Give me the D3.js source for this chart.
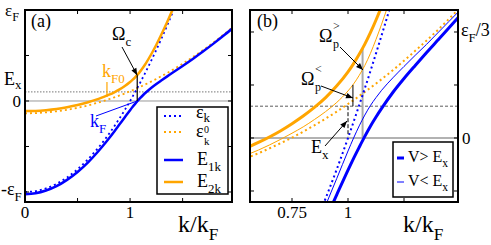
<!DOCTYPE html>
<html><head><meta charset="utf-8">
<script src="https://cdn.jsdelivr.net/npm/d3@7"></script>
<style>
html,body{margin:0;padding:0;background:#fff;}
svg{display:block;}
</style></head>
<body><svg id="chart" width="491" height="245"></svg>
<script>
// k / kF grid shared by the bare and strong-coupling curves
var kGrid = [0, 0.1, 0.2, 0.3, 0.4, 0.5, 0.6, 0.7, 0.75, 0.8, 0.85, 0.9, 0.95, 1.0, 1.025, 1.05,
  1.075, 1.1, 1.125, 1.15, 1.2, 1.25, 1.3, 1.35, 1.4, 1.45, 1.5, 1.6, 1.7, 1.8, 1.9, 2.0];
// bare bands (units of eps_F)
var epsK = [-1, -0.99, -0.96, -0.91, -0.84, -0.75, -0.64, -0.51, -0.438, -0.36, -0.278, -0.19, -0.098, 0, 0.051, 0.103,
  0.156, 0.21, 0.266, 0.323, 0.44, 0.563, 0.69, 0.823, 0.96, 1.103, 1.25, 1.56, 1.89, 2.24, 2.61, 3.0];
var eps0K = [-0.135, -0.133, -0.125, -0.113, -0.096, -0.075, -0.048, -0.016, 0.001, 0.020, 0.040, 0.061, 0.083, 0.107, 0.119, 0.132,
  0.145, 0.158, 0.171, 0.185, 0.213, 0.243, 0.274, 0.306, 0.339, 0.374, 0.410, 0.485, 0.564, 0.649, 0.739, 0.833];
// dressed branches, V > Ex
var E1k = [-1.024, -1.014, -0.984, -0.936, -0.867, -0.780, -0.674, -0.549, -0.481, -0.409, -0.334, -0.256, -0.178, -0.101, -0.064, -0.029,
  0.005, 0.037, 0.066, 0.093, 0.143, 0.187, 0.228, 0.268, 0.307, 0.346, 0.385, 0.465, 0.549, 0.636, 0.727, 0.823];
var E2k = [-0.111, -0.109, -0.101, -0.088, -0.069, -0.045, -0.014, 0.023, 0.045, 0.069, 0.096, 0.127, 0.164, 0.208, 0.234, 0.263,
  0.295, 0.331, 0.371, 0.414, 0.511, 0.618, 0.736, 0.860, 0.992, 1.130, 1.274, 1.579, 1.906, 2.253, 2.621, 3.010];
// dressed branches, V < Ex (panel b only)
var kWeak = [0.5, 0.6, 0.7, 0.75, 0.8, 0.85, 0.9, 0.95, 1.0, 1.025, 1.05, 1.075, 1.1, 1.125, 1.15, 1.2, 1.25, 1.3, 1.35, 1.4, 1.45, 1.5, 1.6];
var E1weak = [-0.759, -0.650, -0.522, -0.451, -0.375, -0.296, -0.212, -0.127, -0.041, 0.000, 0.038, 0.072, 0.102, 0.127, 0.150,
  0.189, 0.225, 0.260, 0.294, 0.330, 0.366, 0.402, 0.479];
var E2weak = [-0.066, -0.038, -0.004, 0.015, 0.035, 0.058, 0.083, 0.112, 0.148, 0.170, 0.197, 0.228, 0.266, 0.310, 0.358,
  0.464, 0.581, 0.704, 0.834, 0.970, 1.111, 1.257, 1.566];

var Ex = 0.1;
var kCross = 1.068;   // where eps_k meets eps0_k
var kF0 = 0.78;

var BLUE = '#0000ff', ORANGE = '#ffa500';
var SERIF = '"Liberation Serif", "Times New Roman", "DejaVu Serif", serif';
var svg = d3.select('#chart');

svg.append('defs').append('marker')
  .attr('id', 'arrowHead')
  .attr('viewBox', '0 -5 10 10')
  .attr('refX', 10).attr('refY', 0)
  .attr('markerUnits', 'userSpaceOnUse')
  .attr('markerWidth', 8).attr('markerHeight', 7)
  .attr('orient', 'auto')
  .append('path').attr('d', 'M0,-4 L10,0 L0,4 Z').attr('fill', '#000');

function pts(ks, vals) { return ks.map((k, i) => [k, vals[i]]); }

// text with optional subscript
function label(g, x, y, main, sub, fs, color, anchor, subShift) {
  var t = g.append('text').attr('x', x).attr('y', y).attr('font-size', fs)
    .attr('font-family', SERIF)
    .attr('fill', color || '#000').attr('text-anchor', anchor || 'start');
  t.append('tspan').text(main);
  if (sub) t.append('tspan').attr('font-size', fs * 0.72).attr('dy', fs * (subShift || 0.32)).text(sub);
  return t;
}

function makePanel(id, xs, ys, xticks, yticks) {
  var g = svg.append('g');
  var x0 = xs.range()[0], x1 = xs.range()[1], y0 = ys.range()[1], y1 = ys.range()[0];
  svg.select('defs').append('clipPath').attr('id', 'clip' + id)
    .append('rect').attr('x', x0).attr('y', y0).attr('width', x1 - x0).attr('height', y1 - y0);
  var inner = g.append('g').attr('clip-path', 'url(#clip' + id + ')');
  function line(data, color, w, dash) {
    inner.append('path')
      .attr('d', d3.line().x(d => xs(d[0])).y(d => ys(d[1])).curve(d3.curveMonotoneX)(data))
      .attr('fill', 'none').attr('stroke', color).attr('stroke-width', w)
      .attr('stroke-dasharray', dash || null);
  }
  function hline(v, color, w, dash) {
    inner.append('line').attr('x1', x0).attr('x2', x1).attr('y1', ys(v)).attr('y2', ys(v))
      .attr('stroke', color).attr('stroke-width', w).attr('stroke-dasharray', dash || null);
  }
  function vline(k, a, b, color, w, dash) {
    inner.append('line').attr('x1', xs(k)).attr('x2', xs(k)).attr('y1', ys(a)).attr('y2', ys(b))
      .attr('stroke', color).attr('stroke-width', w).attr('stroke-dasharray', dash || null);
  }
  function frame() {
    xticks.forEach(t => {
      g.append('line').attr('x1', xs(t)).attr('x2', xs(t)).attr('y1', y1).attr('y2', y1 - 4).attr('stroke', '#000');
      g.append('line').attr('x1', xs(t)).attr('x2', xs(t)).attr('y1', y0).attr('y2', y0 + 4).attr('stroke', '#000');
    });
    yticks.forEach(t => {
      g.append('line').attr('x1', x0).attr('x2', x0 + 4).attr('y1', ys(t)).attr('y2', ys(t)).attr('stroke', '#000');
      g.append('line').attr('x1', x1).attr('x2', x1 - 4).attr('y1', ys(t)).attr('y2', ys(t)).attr('stroke', '#000');
    });
    g.append('rect').attr('x', x0).attr('y', y0).attr('width', x1 - x0).attr('height', y1 - y0)
      .attr('fill', 'none').attr('stroke', '#000').attr('stroke-width', 2);
  }
  return {g, line, hline, vline, frame};
}

function arrow(g, xa, ya, xb, yb) {
  g.append('line').attr('x1', xa).attr('y1', ya).attr('x2', xb).attr('y2', yb)
    .attr('stroke', '#000').attr('stroke-width', 1).attr('marker-end', 'url(#arrowHead)');
}

// ---------- panel (a) ----------
var xA = d3.scaleLinear().domain([0, 1.97]).range([25, 232]);
var yA = d3.scaleLinear().domain([-1.11, 1.0]).range([202, 10]);
var pa = makePanel('a', xA, yA, [0.5, 1, 1.5], [-1, -0.5, 0, 0.5, 1]);
pa.hline(0, '#999', 1);
pa.hline(Ex, '#777', 1, '1.5,1.5');
pa.line(pts(kGrid, eps0K), ORANGE, 1.8, '2,3');
pa.line(pts(kGrid, epsK), BLUE, 1.8, '2,3');
pa.line(pts(kGrid, E1k), BLUE, 2.5);
pa.line(pts(kGrid, E2k), ORANGE, 2.5);
pa.vline(kCross, 0, 0.283, '#000', 1.2);
pa.vline(kF0, 0.21, 0.045, ORANGE, 1.2);
pa.frame();
var ga = pa.g;
// blue kF pointer
ga.append('line').attr('x1', 96).attr('y1', 116).attr('x2', xA(kCross)).attr('y2', yA(0))
  .attr('stroke', BLUE).attr('stroke-width', 1);
arrow(ga, 122, 47, xA(kCross), yA(0.283));
label(ga, 31, 27, '(a)', null, 18);
label(ga, 112, 40, 'Ω', 'c', 18);
label(ga, 102, 77, 'k', 'F0', 18, ORANGE);
label(ga, 90, 127, 'k', 'F', 18, BLUE);
// y tick labels
label(ga, 5, 16, 'ε', 'F', 17, '#000', 'start', 0.28);
label(ga, 4, 85, 'E', 'x', 18, '#000', 'start', 0.22);
label(ga, 21, 107, '0', null, 17, '#000', 'end');
label(ga, 1, 195, '-ε', 'F', 18);
label(ga, xA(0), 218, '0', null, 17, '#000', 'middle');
label(ga, xA(1), 218, '1', null, 17, '#000', 'middle');
label(ga, 178, 232, 'k/k', 'F', 24);

// legend (a)
var la = ga.append('g');
la.append('rect').attr('x', 157).attr('y', 107).attr('width', 71).attr('height', 87)
  .attr('fill', '#fff').attr('stroke', '#000').attr('stroke-width', 1.5);
[[116, BLUE, 1.8, '2,3'], [132, ORANGE, 1.8, '2,3'], [160, BLUE, 2.5, null], [182, ORANGE, 2.5, null]]
  .forEach(e => la.append('line').attr('x1', 164).attr('x2', 183).attr('y1', e[0]).attr('y2', e[0])
    .attr('stroke', e[1]).attr('stroke-width', e[2]).attr('stroke-dasharray', e[3]));
label(la, 196, 118, 'ε', 'k', 18, '#000', 'start', 0.2);
label(la, 196, 137, 'ε', null, 18);
label(la, 204, 133, '0', null, 10);
label(la, 204, 145, 'k', null, 11);
label(la, 197, 165, 'E', '1k', 18);
label(la, 197, 187, 'E', '2k', 18);

// ---------- panel (b) ----------
var xB = d3.scaleLinear().domain([0.5625, 1.491]).range([250, 458]);
var yB = d3.scaleLinear().domain([-0.2013, 0.4025]).range([202, 10]);
var pb = makePanel('b', xB, yB, [0.75, 1, 1.25], [-1 / 6, 0, 1 / 6, 1 / 3]);
pb.hline(0, '#999', 1.5);
pb.hline(Ex, '#333', 0.8, '3,2');
pb.vline(kCross - 0.003, 0, 0.283, '#aaa', 2);
pb.line(pts(kGrid, eps0K), ORANGE, 2, '2,3');
pb.line(pts(kGrid, epsK), BLUE, 2, '2,3');
pb.line(pts(kWeak, E2weak), ORANGE, 1);
pb.line(pts(kWeak, E1weak), BLUE, 1);
pb.line(pts(kGrid, E2k), ORANGE, 3);
pb.line(pts(kGrid, E1k), BLUE, 3);
pb.vline(1.022, 0.167, Ex, '#000', 1);
pb.vline(1.0, Ex, 0.005, '#000', 1, '4,2');
pb.frame();
var gb = pb.g;
arrow(gb, 340, 47, 363, 70);
arrow(gb, 321, 86, 353, 98);
arrow(gb, 325, 146, 347, 121);
label(gb, 257, 27, '(b)', null, 18);
label(gb, 319, 42, 'Ω', null, 18);
label(gb, 333, 30, '>', null, 12);
label(gb, 333, 48, 'p', null, 12);
label(gb, 301, 85, 'Ω', null, 18);
label(gb, 315, 73, '<', null, 12);
label(gb, 315, 91, 'p', null, 12);
label(gb, 311, 153, 'E', 'x', 18);
label(gb, 461, 36, 'ε', 'F', 18).append('tspan').attr('dy', -18 * 0.32).text('/3');
label(gb, 462, 144, '0', null, 17);
label(gb, xB(0.75), 218, '0.75', null, 17, '#000', 'middle');
label(gb, xB(1), 218, '1', null, 17, '#000', 'middle');
label(gb, 403, 232, 'k/k', 'F', 24);

// legend (b)
var lb = gb.append('g');
lb.append('rect').attr('x', 393).attr('y', 142).attr('width', 60).attr('height', 55)
  .attr('fill', '#fff').attr('stroke', '#000').attr('stroke-width', 1.5);
lb.append('line').attr('x1', 397).attr('x2', 404).attr('y1', 158).attr('y2', 158).attr('stroke', BLUE).attr('stroke-width', 3);
lb.append('line').attr('x1', 397).attr('x2', 404).attr('y1', 182).attr('y2', 182).attr('stroke', BLUE).attr('stroke-width', 1);
label(lb, 408, 162, 'V> E', 'x', 16);
label(lb, 408, 186, 'V< E', 'x', 16);
</script>
</body></html>
